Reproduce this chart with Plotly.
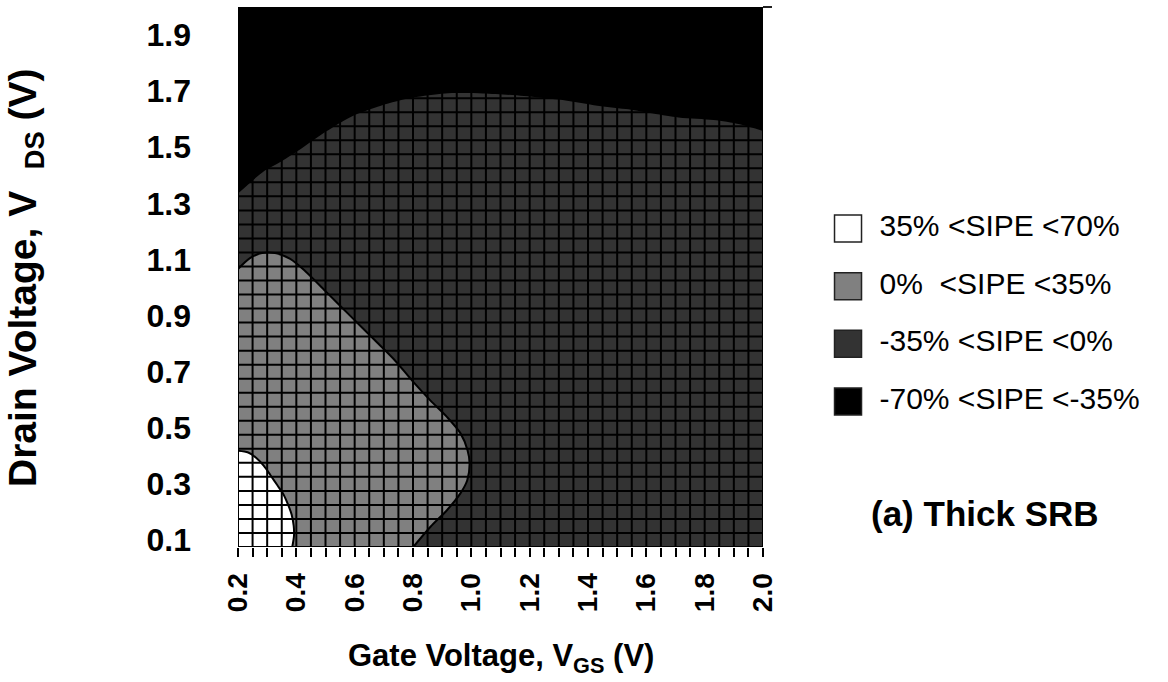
import numpy as np
import plotly.graph_objects as go

# ---------------- data ----------------
# Contour SIPE = -35 % (boundary between "-35..0 %" and "-70..-35 %")
c_m35_x = [0.20, 0.29, 0.35, 0.41, 0.50, 0.59, 0.69, 0.80, 0.91, 1.04, 1.18, 1.30, 1.42, 1.53, 1.71, 1.83, 1.92, 2.00]
c_m35_y = [1.335, 1.415, 1.450, 1.490, 1.555, 1.610, 1.648, 1.677, 1.692, 1.692, 1.683, 1.670, 1.650, 1.636, 1.606, 1.597, 1.582, 1.558]

# Contour SIPE = 0 % (boundary between "0..35 %" and "-35..0 %")
c_0_x = [0.200, 0.241, 0.282, 0.327, 0.379, 0.430, 0.499, 0.585, 0.671, 0.739, 0.797, 0.860, 0.917, 0.963, 0.987, 0.994, 0.986, 0.963, 0.917, 0.860, 0.801]
c_0_y = [1.066, 1.105, 1.123, 1.123, 1.102, 1.059, 0.988, 0.899, 0.810, 0.739, 0.668, 0.597, 0.538, 0.480, 0.420, 0.374, 0.313, 0.267, 0.207, 0.147, 0.075]

# Contour SIPE = 35 % (boundary between "35..70 %" and "0..35 %")
c_35_x = [0.200, 0.235, 0.262, 0.288, 0.312, 0.335, 0.356, 0.372, 0.384, 0.391, 0.392, 0.386]
c_35_y = [0.418, 0.412, 0.393, 0.365, 0.330, 0.295, 0.262, 0.225, 0.190, 0.150, 0.115, 0.075]

legend_labels = ["35%\u00a0<SIPE\u00a0<70%", "0%\u00a0\u00a0<SIPE\u00a0<35%",
                 "-35%\u00a0<SIPE\u00a0<0%", "-70%\u00a0<SIPE\u00a0<-35%"]
band_colors = ["#ffffff", "#808080", "#333333", "#000000"]

x_range = [0.2, 2.0]
y_range = [0.075, 2.0]
step = 0.05
x_grid = np.round(np.arange(x_range[0], x_range[1] + 1e-9, step), 3)
y_grid = np.round(np.arange(y_range[0], y_range[1] - 1e-9, step), 3)

# ---------------- layout geometry ----------------
W, H = 1168, 682
ML, MR, MT, MB = 238, 8, 7, 135
PW, PH = W - ML - MR, H - MT - MB
plot_right = 763
xdom = [0, (plot_right - ML) / PW]

FONT = "Liberation Sans, Arial, sans-serif"

fig = go.Figure()

# band -35..0 % : everything under the -35 % contour
fig.add_trace(go.Scatter(x=c_m35_x, y=c_m35_y, mode="lines", line=dict(width=0, shape="spline", smoothing=0.8),
                         fill="tozeroy", fillcolor=band_colors[2], hoverinfo="skip", showlegend=False))

# band 0..35 % : inside the 0 % contour (closed outside the visible area)
gx = [x_range[0] - 0.05] + c_0_x + [c_0_x[-1] - 0.05, x_range[0] - 0.1]
gy = [c_0_y[0] - 0.045] + c_0_y + [y_range[0] - 0.055, y_range[0] - 0.055]
fig.add_trace(go.Scatter(x=gx, y=gy, mode="lines", line=dict(width=0, shape="spline", smoothing=0.8),
                         fill="toself", fillcolor=band_colors[1], hoverinfo="skip", showlegend=False))

# band 35..70 %
fig.add_trace(go.Scatter(x=c_35_x, y=c_35_y, mode="lines", line=dict(width=0, shape="spline", smoothing=0.8),
                         fill="tozerox", fillcolor=band_colors[0], hoverinfo="skip", showlegend=False))

# contour lines
for cx, cy in [(c_0_x, c_0_y), (c_35_x, c_35_y)]:
    fig.add_trace(go.Scatter(x=cx, y=cy, mode="lines", line=dict(width=2, color="black", shape="spline", smoothing=0.8),
                             hoverinfo="skip", showlegend=False))

# mesh of the data grid
mx, my = [], []
for xv in x_grid:
    mx += [xv, xv, None]
    my += [y_range[0], y_range[1], None]
for yv in y_grid:
    mx += [x_range[0], x_range[1], None]
    my += [yv, yv, None]
fig.add_trace(go.Scatter(x=mx, y=my, mode="lines", line=dict(width=2, color="black"),
                         hoverinfo="skip", showlegend=False))

# legend drawn on a hidden helper axis
leg_idx = list(range(len(legend_labels)))
fig.add_trace(go.Scatter(x=[0.0824] * 4, y=leg_idx, mode="markers", xaxis="x2", yaxis="y2",
                         marker=dict(symbol="square", size=27, color=band_colors,
                                     line=dict(width=1.5, color="#222222")),
                         hoverinfo="skip", showlegend=False))
fig.add_trace(go.Scatter(x=[0.175] * 4, y=leg_idx, mode="text", xaxis="x2", yaxis="y2",
                         text=legend_labels, textposition="middle right",
                         textfont=dict(family=FONT, size=30, color="black"),
                         hoverinfo="skip", showlegend=False))

row0, rowstep = 228.5, 57.67
fig.update_layout(
    width=W, height=H, autosize=False,
    margin=dict(l=ML, r=MR, t=MT, b=MB, pad=0, autoexpand=False),
    paper_bgcolor="white", plot_bgcolor="white",
    showlegend=False,
    xaxis=dict(domain=xdom, range=x_range, showgrid=False, zeroline=False, showline=False, automargin=False,
               ticks="outside", ticklen=9, tickwidth=2, tickcolor="black",
               tick0=0.2, dtick=0.2, tickformat=".1f", tickangle=-90,
               ticklabelstandoff=5,
               tickfont=dict(family=FONT, size=28, color="black", weight="bold"),
               minor=dict(ticks="outside", ticklen=9, tickwidth=2, tickcolor="black", dtick=0.05, showgrid=False)),
    yaxis=dict(range=y_range, showgrid=False, zeroline=False, showline=False, ticks="", automargin=False,
               tick0=0.1, dtick=0.2, tickformat=".1f", ticklabelstandoff=46,
               tickfont=dict(family=FONT, size=32, color="black", weight="bold")),
    xaxis2=dict(domain=[(820 - ML) / PW, (1160 - ML) / PW], range=[0, 1], visible=False, anchor="y2",
                automargin=False),
    yaxis2=dict(domain=[0, 1], range=[(547 - row0) / rowstep, (7 - row0) / rowstep], visible=False, anchor="x2",
                automargin=False),
    annotations=[
        dict(text="<b>Gate Voltage, V<sub>GS</sub> (V)</b>", xref="paper", yref="paper",
             x=(500.5 - ML) / PW, y=-(658 - 547) / PH, xanchor="center", yanchor="middle", showarrow=False,
             font=dict(family=FONT, size=31, color="black")),
        dict(text="<b>Drain Voltage, V\u00a0\u00a0<sub>DS</sub>\u00a0(V)</b>", xref="paper", yref="paper",
             x=(26 - ML) / PW, y=(547 - 278) / PH, xanchor="center", yanchor="middle", textangle=-90,
             showarrow=False, font=dict(family=FONT, size=39, color="black")),
        dict(text="<b>(a) Thick SRB</b>", xref="paper", yref="paper",
             x=(985 - ML) / PW, y=(547 - 513) / PH, xanchor="center", yanchor="middle", showarrow=False,
             font=dict(family=FONT, size=35, color="black")),
    ],
    shapes=[
        # black background of the "-70..-35 %" band inside the contour plot
        dict(type="rect", xref="x", yref="y", x0=x_range[0], x1=x_range[1], y0=y_range[0], y1=y_range[1],
             fillcolor=band_colors[3], line=dict(width=0), layer="below"),
        dict(type="line", xref="paper", yref="paper", x0=(plot_right - ML) / PW, x1=(772 - ML) / PW,
             y0=1, y1=1, line=dict(color="#222222", width=2)),
    ],
)

fig.write_html(
    "out.html",
    config={"displayModeBar": False, "responsive": False},
    post_script=("document.documentElement.style.overflow='hidden';"
                 "document.body.style.margin='0';document.body.style.overflow='hidden';"),
)
